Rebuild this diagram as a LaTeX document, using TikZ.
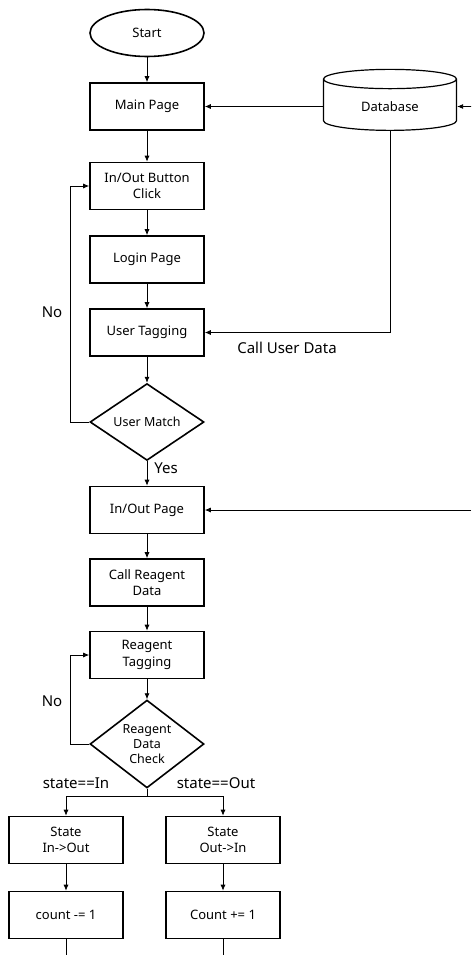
\documentclass[tikz,border=0pt]{standalone}
\usepackage{fontspec}
\setmainfont{Noto Sans}
\usetikzlibrary{shapes.geometric,arrows.meta}

\begin{document}
\begin{tikzpicture}[x=1pt,y=-1pt]
\tikzset{boite/.style={draw, line width=1.6pt, minimum width=114pt, minimum height=47pt, inner sep=1pt, align=center, font=\fontsize{13}{16.5}\selectfont},
  debut/.style={draw, ellipse, line width=1.6pt, minimum width=114pt, minimum height=47pt, font=\fontsize{13}{16.5}\selectfont},
  losange/.style={draw, diamond, line width=1.6pt, minimum width=114pt, minimum height=60pt, inner sep=0pt, align=center, font=\fontsize{12.5}{15}\selectfont},
  base/.style={draw, cylinder, shape border rotate=90, aspect=0.3, line width=1.2pt, minimum width=133pt, minimum height=61pt, font=\fontsize{13}{16.5}\selectfont},
  fleche/.style={-{Latex[length=6pt,width=5pt]}, line width=0.8pt},
  etiq/.style={font=\fontsize{15}{18}\selectfont}}
\useasboundingbox (0,0) rectangle (471,955);
\node[debut] (start) at (147,33) {Start};
\node[boite] (main) at (147,106.5) {Main Page};
\node[base] (db) at (390,106.5) {Database};
\node[boite] (btn) at (147,186) {In/Out Button\\Click};
\node[boite] (login) at (147,259.5) {Login Page};
\node[boite] (utag) at (147,332.5) {User Tagging};
\node[losange] (umatch) at (147,422) {User Match};
\node[boite] (iopage) at (147,510) {In/Out Page};
\node[boite] (callr) at (147,582.5) {Call Reagent\\Data};
\node[boite] (rtag) at (147,655) {Reagent\\Tagging};
\node[losange] (rcheck) at (147,744) {Reagent\\Data\\Check};
\node[boite] (inout) at (66,840) {State\\In->Out};
\node[boite] (outin) at (223,840) {State\\Out->In};
\node[boite] (cmoins) at (66,915) {count -= 1};
\node[boite] (cplus) at (223,915) {Count += 1};
\coordinate (dbin) at (471,106.5);
\coordinate (ioin) at (471,510);
\coordinate (split) at (147,796);
\coordinate (fin1) at (66,955);
\coordinate (fin2) at (223,955);
% liens
\draw[fleche] (start) -- (main);
\draw[fleche] (db) -- (main);
\draw[fleche] (dbin) -- (db.east);
\draw[fleche] (main) -- (btn);
\draw[fleche] (btn) -- (login);
\draw[fleche] (login) -- (utag);
\draw[fleche] (db.south) |- (utag.east);
\node[etiq] (calluser) at (287,348) {Call User Data};
\draw[fleche] (utag) -- (umatch);
\draw[fleche] (umatch.west) -- ++(-19,0) |- (btn.west);
\node[etiq] (non1) at (52,312) {No};
\draw[fleche] (umatch) -- (iopage);
\node[etiq] (oui) at (166,468) {Yes};
\draw[fleche] (ioin) -- (iopage.east);
\draw[fleche] (iopage) -- (callr);
\draw[fleche] (callr) -- (rtag);
\draw[fleche] (rtag) -- (rcheck);
\draw[fleche] (rcheck.west) -- ++(-19,0) |- (rtag.west);
\node[etiq] (non2) at (52,701) {No};
\draw[line width=0.8pt] (rcheck.south) -- (split);
\draw[fleche] (split) -| (inout.north);
\draw[fleche] (split) -| (outin.north);
\node[etiq] (etatin) at (76,783) {state==In};
\node[etiq] (etatout) at (216,783) {state==Out};
\draw[fleche] (inout) -- (cmoins);
\draw[fleche] (outin) -- (cplus);
\draw[line width=0.8pt] (cmoins) -- (fin1);
\draw[line width=0.8pt] (cplus) -- (fin2);
\end{tikzpicture}
\end{document}
